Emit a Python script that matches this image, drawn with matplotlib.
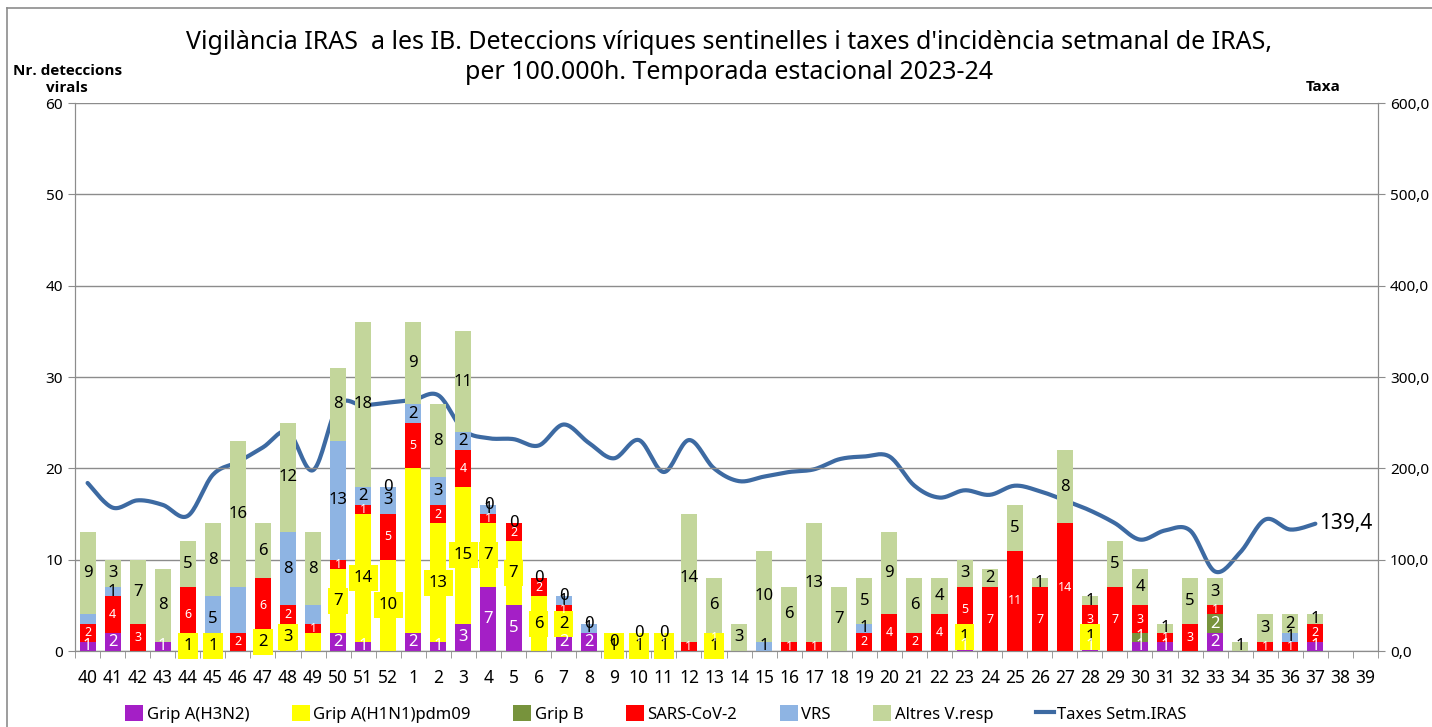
import matplotlib
matplotlib.use("Agg")
import matplotlib.pyplot as plt
import numpy as np
from matplotlib.patches import Patch
from matplotlib.lines import Line2D

plt.rcParams['font.family'] = ['Noto Sans', 'DejaVu Sans']

weeks = [str(w) for w in range(40, 53)] + [str(w) for w in range(1, 40)]

h3n2 = [1, 2, 0, 1, 0, 0, 0, 0, 0, 0, 2, 1, 0,
        2, 1, 3, 7, 5, 0, 2, 2, 0, 0, 0, 0, 0, 0, 0, 0, 0, 0, 0, 0, 0, 0,
        1, 0, 0, 0, 0, 1, 0, 1, 1, 0, 2, 0, 0, 0, 1, 0, 0]
h1n1 = [0, 0, 0, 0, 1, 1, 0, 2, 3, 2, 7, 14, 10,
        18, 13, 15, 7, 7, 6, 2, 0, 1, 1, 1, 0, 1, 0, 0, 0, 0, 0, 0, 0, 0, 0,
        1, 0, 0, 0, 0, 1, 0, 0, 0, 0, 0, 0, 0, 0, 0, 0, 0]
gripb = [0] * 42 + [1, 0, 0, 2, 0, 0, 0, 0, 0, 0]
sars = [2, 4, 3, 0, 6, 0, 2, 6, 2, 1, 1, 1, 5,
        5, 2, 4, 1, 2, 2, 1, 0, 0, 1, 1, 1, 1, 0, 0, 1, 1, 0, 2, 4, 2, 4,
        5, 7, 11, 7, 14, 3, 7, 3, 1, 3, 1, 0, 1, 1, 2, 0, 0]
vrs = [1, 1, 0, 0, 0, 5, 5, 0, 8, 2, 13, 2, 3,
       2, 3, 2, 1, 0, 0, 1, 1, 0, 0, 0, 0, 0, 0, 1, 0, 0, 0, 1, 0, 0, 0,
       0, 0, 0, 0, 0, 0, 0, 0, 0, 0, 0, 0, 0, 1, 0, 0, 0]
# None = empty cell (no label), 0 = zero shown as label
altres = [9, 3, 7, 8, 5, 8, 16, 6, 12, 8, 8, 18, 0,
          9, 8, 11, 0, 0, 0, 0, 0, 0, 0, 0, 14, 6, 3, 10, 6, 13, 7, 5, 9, 6, 4,
          3, 2, 5, 1, 8, 1, 5, 4, 1, 5, 3, 1, 3, 2, 1, None, None]

taxa = [184, 157, 165, 160, 148, 193, 207, 223, 240, 198, 269, 269, 272,
        275, 280, 242, 233, 232, 225, 248, 228, 211, 231, 196, 231, 200, 186,
        191, 196, 199, 210, 213, 213, 181, 168, 176, 171, 181, 175, 165, 154,
        140, 122, 132, 132, 87, 108, 144, 133, 139.4]

series = [
    ("Grip A(H3N2)", h3n2, "#A41FC6", "white"),
    ("Grip A(H1N1)pdm09", h1n1, "#FFFF00", "black"),
    ("Grip B", gripb, "#77933C", "white"),
    ("SARS-CoV-2", sars, "#FF0000", "white"),
    ("VRS", vrs, "#8EB4E3", "black"),
    ("Altres V.resp", altres, "#C3D69B", "black"),
]
hidden = {("VRS", "40"), ("VRS", "46"), ("VRS", "49"),
          ("Grip A(H1N1)pdm09", "49"), ("Grip A(H1N1)pdm09", "1")}

fig = plt.figure(figsize=(14.32, 7.27), dpi=100)
ax = fig.add_axes([0.0524, 0.1045, 0.9099, 0.7538])
ax2 = ax.twinx()

x = np.arange(len(weeks))
bottom = np.zeros(len(weeks))
for name, vals, col, tcol in series:
    v = np.array([0 if a is None else a for a in vals], dtype=float)
    ax.bar(x, v, 0.64, bottom=bottom, color=col, zorder=2)
    for i, a in enumerate(vals):
        if a is None or (a == 0 and name != "Altres V.resp"):
            continue
        if (name, weeks[i]) in hidden:
            continue
        yc = bottom[i] + v[i] / 2
        if name == "Grip A(H1N1)pdm09":
            ax.text(x[i], yc, str(a), ha='center', va='center', fontsize=12,
                    color='black', zorder=4.5,
                    bbox=dict(boxstyle='square,pad=0.3', fc='#FFFF00', ec='none'))
        elif name == "SARS-CoV-2":
            ax.text(x[i], yc, str(a), ha='center', va='center', fontsize=9,
                    color='white', zorder=5)
        else:
            ax.text(x[i], yc, str(a), ha='center', va='center', fontsize=12,
                    color=tcol, zorder=5)
    bottom += v

ax.set_xlim(-0.5, len(weeks) - 0.5)
ax.set_ylim(0, 60)
ax.set_yticks(range(0, 61, 10))
ax.yaxis.grid(True, color='#8C8C8C', lw=1)
ax.set_axisbelow(True)
ax.set_xticks(x)
ax.set_xticklabels(weeks, fontsize=12.5)
ax.set_xticks(np.arange(-0.5, len(weeks), 1), minor=True)
ax.tick_params(axis='x', which='major', length=0, pad=13)
ax.tick_params(axis='x', which='minor', length=5, color='#8C8C8C')
ax.tick_params(axis='y', labelsize=11, length=5, color='#8C8C8C')
for s in ['top']:
    ax.spines[s].set_visible(False)
    ax2.spines[s].set_visible(False)
for s in ['left', 'bottom', 'right']:
    ax.spines[s].set_color('#8C8C8C')
    ax2.spines[s].set_color('#8C8C8C')

# smoothed line (Catmull-Rom through the weekly points)
tx = np.arange(len(taxa), dtype=float)
ty = np.array(taxa, dtype=float)
px = np.concatenate([[tx[0]], tx, [tx[-1]]])
py = np.concatenate([[ty[0]], ty, [ty[-1]]])
sx, sy = [], []
t = np.linspace(0, 1, 20)
for k in range(1, len(px) - 2):
    for arr, out in ((px, sx), (py, sy)):
        p0, p1, p2, p3 = arr[k - 1], arr[k], arr[k + 1], arr[k + 2]
        out.extend(0.5 * (2 * p1 + (-p0 + p2) * t + (2 * p0 - 5 * p1 + 4 * p2 - p3) * t ** 2
                          + (-p0 + 3 * p1 - 3 * p2 + p3) * t ** 3))
ax2.plot(sx, sy, color='#3D6AA2', lw=3, zorder=4, solid_capstyle='round')
ax2.text(tx[-1] + 0.15, ty[-1], "139,4", fontsize=15, va='center', ha='left')
ax2.set_ylim(0, 600)
ax2.set_yticks(range(0, 601, 100))
ax2.set_yticklabels([f"{v},0" for v in range(0, 601, 100)])
ax2.tick_params(axis='y', labelsize=11, length=5, color='#8C8C8C')
ax.set_zorder(ax2.get_zorder() + 1)
ax.patch.set_visible(False)

fig.text(0.509, 0.921, "Vigilància IRAS  a les IB. Deteccions víriques sentinelles i taxes d'incidència setmanal de IRAS,\n"
         "per 100.000h. Temporada estacional 2023-24", ha='center', va='center', fontsize=18,
         linespacing=1.3)
bold_font = ['Open Sans', 'Lato', 'DejaVu Sans']
fig.text(0.047, 0.891, "Nr. deteccions\nvirals", ha='center', va='center', fontsize=11,
         fontweight='bold', family=bold_font, linespacing=1.3)
fig.text(0.924, 0.881, "Taxa", ha='center', va='center', fontsize=11, fontweight='bold',
         family=bold_font)

handles = [Patch(facecolor=c, edgecolor='none') for _, _, c, _ in series]
handles.append(Line2D([0], [0], color='#3D6AA2', lw=3))
labels = [n for n, _, _, _ in series] + ["Taxes Setm.IRAS"]
fig.legend(handles, labels, loc='center', bbox_to_anchor=(0.458, 0.018), ncol=7,
           frameon=False, fontsize=12, handlelength=1.1, handleheight=1.1,
           handletextpad=0.2, columnspacing=2.54)

# outer chart frame
fig.add_artist(Line2D([7 / 1432, 7 / 1432], [0, 1 - 8 / 727], color='#8C8C8C', lw=1.2,
                      transform=fig.transFigure))
fig.add_artist(Line2D([7 / 1432, 1], [1 - 8 / 727, 1 - 8 / 727], color='#8C8C8C', lw=1.2,
                      transform=fig.transFigure))

fig.savefig("out.png", dpi=100)
